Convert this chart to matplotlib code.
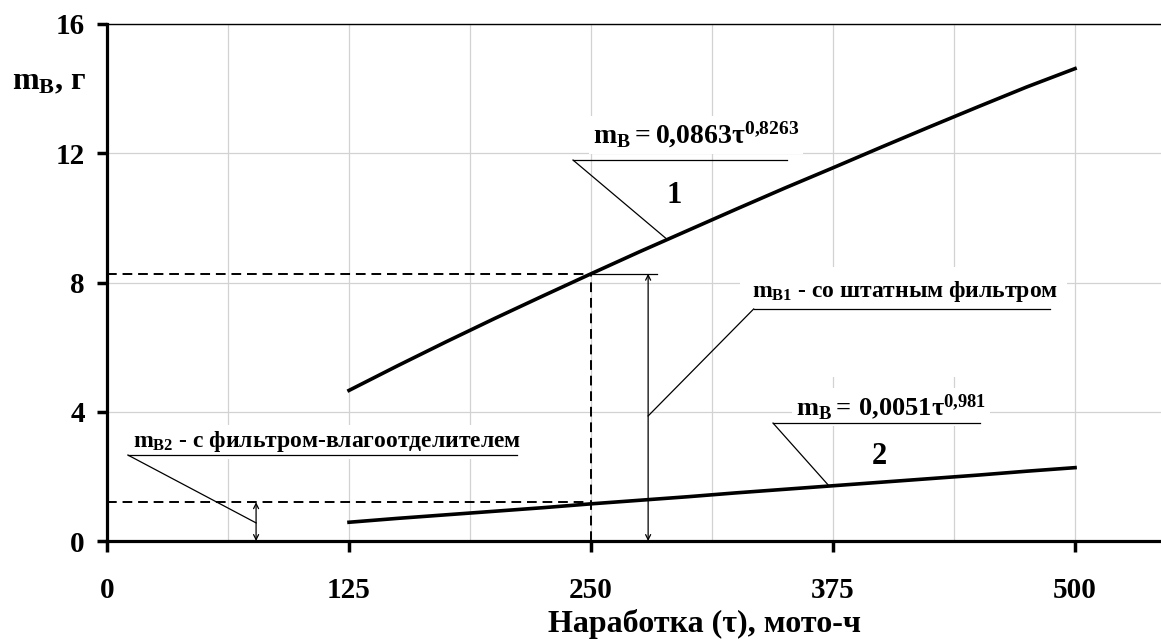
import matplotlib.pyplot as plt
from matplotlib.patches import Rectangle
from matplotlib.ticker import MultipleLocator

plt.rcParams['font.family'] = ['Liberation Serif', 'DejaVu Serif']
plt.rcParams['font.weight'] = 'bold'
plt.rcParams['mathtext.fontset'] = 'custom'
plt.rcParams['mathtext.rm'] = 'Liberation Serif:bold'
plt.rcParams['mathtext.bf'] = 'Liberation Serif:bold'
plt.rcParams['mathtext.it'] = 'Liberation Serif:bold'

# наработка, мото-ч
tau = [125, 150, 175, 200, 225, 250, 275, 300, 325, 350, 375, 400, 425, 450, 475, 500]
# масса воды: 1 - штатный фильтр, 2 - фильтр-влагоотделитель
m1 = [4.66, 5.42, 6.16, 6.88, 7.58, 8.27, 8.95, 9.61, 10.27, 10.92, 11.55, 12.19, 12.82, 13.44, 14.05, 14.62]
m2 = [0.58, 0.70, 0.81, 0.92, 1.03, 1.15, 1.26, 1.37, 1.49, 1.60, 1.71, 1.82, 1.93, 2.04, 2.16, 2.27]
tau_ref = 250
m1_ref = 8.27
m2_ref = 1.2
xticks = [0, 125, 250, 375, 500]
yticks = [0, 4, 8, 12, 16]

fig = plt.figure(figsize=(11.61, 6.41), dpi=100)
ax = fig.add_axes([107 / 1161, 1 - 541 / 641, 1 - 107 / 1161, 517 / 641])
ax.set_xlim(0, 544.4)
ax.set_ylim(0, 16)

ax.set_xticks(xticks)
ax.set_yticks(yticks)
ax.xaxis.set_minor_locator(MultipleLocator(62.5))
ax.tick_params(axis='x', which='major', length=8, width=2.5, pad=18, labelsize=21)
ax.tick_params(axis='x', which='minor', length=0)
ax.tick_params(axis='y', length=7, width=2.5, pad=9, labelsize=21)
ax.grid(True, which='both', color='#d2d2d2', lw=0.9)
ax.set_axisbelow(True)

ax.spines['left'].set_linewidth(2.3)
ax.spines['bottom'].set_linewidth(2.3)
ax.spines['top'].set_linewidth(1.0)
ax.spines['right'].set_visible(False)

# кривые
ax.plot(tau, m1, color='black', lw=2.6, zorder=5)
ax.plot(tau, m2, color='black', lw=2.6, zorder=5)

# отсчёт при 250 мото-ч
dash = (0, (5, 3))
ax.plot([0, tau_ref], [m1_ref, m1_ref], color='black', lw=1.4, ls=dash, zorder=4)
ax.plot([tau_ref, tau_ref], [0, m1_ref], color='black', lw=1.4, ls=dash, zorder=4)
ax.plot([0, tau_ref - 2], [m2_ref, m2_ref], color='black', lw=1.4, ls=dash, zorder=4)
ax.plot([tau_ref, 284], [m1_ref, m1_ref], color='black', lw=0.9, zorder=4)

arr = dict(arrowstyle='<->', color='black', lw=0.9, mutation_scale=9, shrinkA=0, shrinkB=0)
ax.annotate('', xy=(279.5, 0), xytext=(279.5, m1_ref), arrowprops=arr, zorder=4)
ax.annotate('', xy=(77, 0), xytext=(77, m2_ref), arrowprops=arr, zorder=4)

lead = dict(color='black', lw=0.9, zorder=4)
box = dict(facecolor='white', edgecolor='none', pad=3)

# формула 1
ax.text(251, 12.3, r'$\mathbf{m_B = 0{,}0863\tau^{0{,}8263}}$', fontsize=20, bbox=box, zorder=3)
ax.plot([240.7, 351], [11.79, 11.79], **lead)
ax.plot([240.7, 289], [11.79, 9.35], **lead)
ax.text(293, 10.7, '1', fontsize=22, ha='center', va='center')

# формула 2
ax.add_patch(Rectangle((326.9, 5.08), 169, 3.4, facecolor='white', edgecolor='none', zorder=1))
ax.text(356, 3.9, r'$\mathbf{m_B{=}\,0{,}0051\tau^{0{,}981}}$', fontsize=19, bbox=box, zorder=3)
ax.plot([344, 451], [3.65, 3.65], **lead)
ax.plot([344, 373], [3.65, 1.7], **lead)
ax.text(399, 2.63, '2', fontsize=22, ha='center', va='center')

# подписи к стрелкам
ax.text(333, 7.55, r'$\mathbf{m_{B1}}$ - со штатным фильтром', fontsize=17, bbox=box, zorder=3)
ax.plot([334, 487], [7.18, 7.18], **lead)
ax.plot([334, 279.5], [7.18, 3.87], **lead)

ax.text(13.4, 2.9, r'$\mathbf{m_{B2}}$ - с фильтром-влагоотделителем', fontsize=17, bbox=box, zorder=3)
ax.plot([10.8, 211.8], [2.66, 2.66], **lead)
ax.plot([10.8, 77], [2.66, 0.56], **lead)

fig.text(0.042, 0.872, r'$\mathbf{m_B}$, г', fontsize=23, ha='center', va='center')
fig.text(0.607, 0.027, 'Наработка (τ), мото-ч', fontsize=23, ha='center', va='center')

fig.savefig('out.png', dpi=100)
